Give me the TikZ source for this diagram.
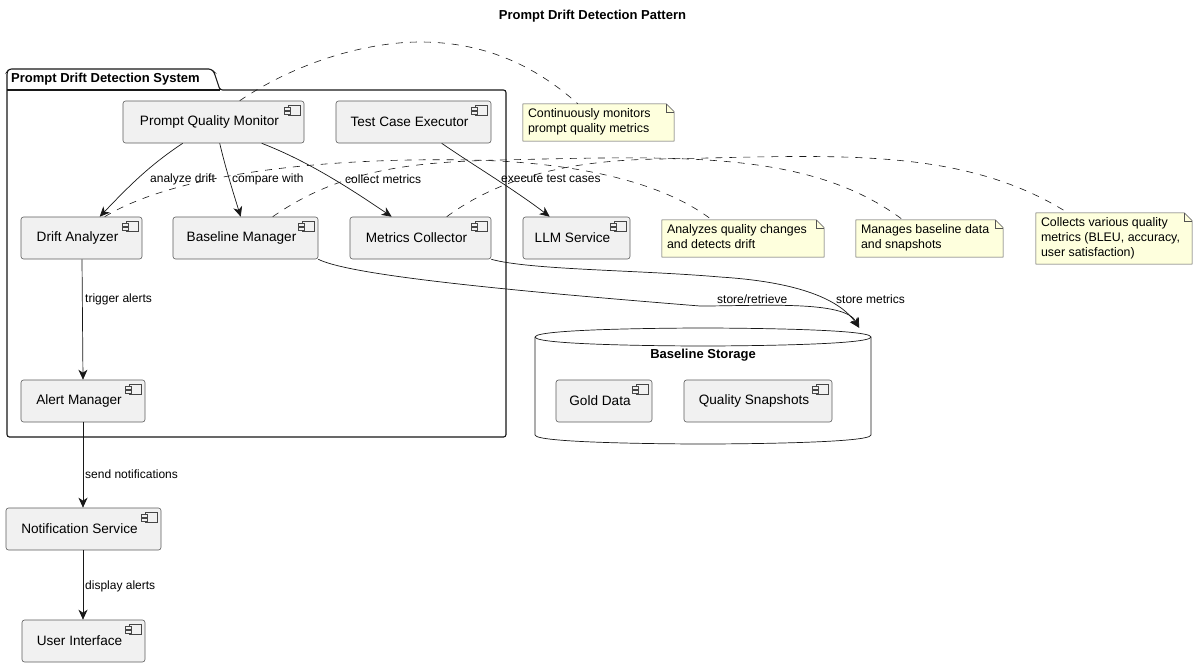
\documentclass[tikz,border=0pt]{standalone}
\usepackage{fontspec}
\setmainfont{Liberation Sans}
\usetikzlibrary{arrows.meta,calc}
\definecolor{ink}{HTML}{181818}
\definecolor{compfill}{HTML}{F1F1F1}
\definecolor{notefill}{HTML}{FEFFDD}
\tikzset{
  comp/.style={draw=ink!70,line width=0.6pt,fill=compfill,rounded corners=2.5pt,inner sep=0pt,font=\fontsize{13.6}{16}\selectfont},
  flow/.style={draw=ink,line width=0.7pt,-{Stealth[length=10pt,width=9pt,inset=3pt]}},
  notelink/.style={draw=ink,line width=0.6pt,dash pattern=on 7pt off 7pt},
  edgelabel/.style={font=\fontsize{12}{14}\selectfont,inner sep=0pt,anchor=west},
  notetext/.style={inner sep=0pt,font=\fontsize{12.4}{14.6}\selectfont,align=left,anchor=north west},
  notebox/.style={inner sep=0pt},
}
% \comp{name}{x1}{y1}{x2}{y2}{text}
\newcommand\comp[6]{%
  \node[comp,minimum width=#4pt-#2pt,minimum height=#5pt-#3pt] (#1) at ({(#2+#4)/2},{(#3+#5)/2})
    {\hspace*{-8pt}\raisebox{-5pt}{#6}};
  \draw[ink!80,line width=0.5pt,fill=compfill] ($(#1.north east)+(-16,5)$) rectangle ($(#1.north east)+(-4,15)$);
  \draw[ink!80,line width=0.5pt,fill=compfill] ($(#1.north east)+(-20,7)$) rectangle ($(#1.north east)+(-14,9.5)$);
  \draw[ink!80,line width=0.5pt,fill=compfill] ($(#1.north east)+(-20,11)$) rectangle ($(#1.north east)+(-14,13.5)$);
}
% \note{name}{x1}{y1}{x2}{y2}{text}
\newcommand\notebubble[6]{%
  \node[notebox,minimum width=#4pt-#2pt,minimum height=#5pt-#3pt] (#1) at ({(#2+#4)/2},{(#3+#5)/2}) {};
  \draw[ink!75,line width=0.5pt,fill=notefill] (#1.north west) -- ($(#1.north east)+(-8,0)$) -- ($(#1.north east)+(0,8)$) -- (#1.south east) -- (#1.south west) -- cycle;
  \draw[ink!75,line width=0.5pt] ($(#1.north east)+(-8,0)$) -- ($(#1.north east)+(-8,8)$) -- ($(#1.north east)+(0,8)$);
  \node[notetext] (#1t) at ($(#1.north west)+(5,5)$) {#6};
}
\begin{document}
\begin{tikzpicture}[x=1pt,y=-1pt]
\useasboundingbox (0,0) rectangle (1198,667);
\fill[white] (0,0) rectangle (1198,667);

\node[font=\bfseries\fontsize{13}{15}\selectfont,inner sep=0pt] (title) at (592.5,16) {Prompt Drift Detection Pattern};

% package
\draw[ink,line width=1.1pt,rounded corners=2.5pt] (7,90) -- (7,72) -- (9,69) -- (211,69) -- (214,72) -- (220,90) -- (506,90) -- (506,437) -- (7,437) -- cycle;
\draw[ink,line width=1.1pt] (7,90) -- (220,90);
\node[font=\bfseries\fontsize{13}{15}\selectfont,inner sep=0pt,anchor=west] (pkg) at (11,79.5) {Prompt Drift Detection System};

% storage
\node[inner sep=0pt,minimum width=336pt,minimum height=116pt] (store) at (703,386) {};
\draw[ink,line width=0.7pt,fill=white] (535,337) .. controls (535,328) and (703,328) .. (703,328) .. controls (703,328) and (871,328) .. (871,337)
  -- (871,435) .. controls (871,444) and (703,444) .. (703,444) .. controls (703,444) and (535,444) .. (535,435) -- cycle;
\draw[ink,line width=0.7pt] (535,337) .. controls (535,346) and (703,346) .. (703,346) .. controls (703,346) and (871,346) .. (871,337);
\node[font=\bfseries\fontsize{13}{15}\selectfont,inner sep=0pt] (storelabel) at (703,355.5) {Baseline Storage};

% components
\comp{pqm}{123}{101}{304}{143}{Prompt Quality Monitor}
\comp{tce}{336}{101}{491}{143}{Test Case Executor}
\comp{da}{21}{217}{142}{259}{Drift Analyzer}
\comp{bm}{173}{217}{318}{259}{Baseline Manager}
\comp{mc}{350}{217}{491}{259}{Metrics Collector}
\comp{llm}{523}{217}{630}{259}{LLM Service}
\comp{am}{21}{380}{145}{422}{Alert Manager}
\comp{gd}{556}{380}{652}{422}{Gold Data}
\comp{qs}{684}{380}{832}{422}{Quality Snapshots}
\comp{ns}{6}{508}{161}{550}{Notification Service}
\comp{ui}{22}{620}{145}{662}{User Interface}

% notes
\notebubble{n1}{523}{104}{674}{141}{Continuously monitors\\prompt quality metrics}
\notebubble{n2}{662}{220}{824}{257}{Analyzes quality changes\\and detects drift}
\notebubble{n3}{856}{220}{1003}{257}{Manages baseline data\\and snapshots}
\notebubble{n4}{1036}{213}{1192}{264}{Collects various quality\\metrics (BLEU, accuracy,\\user satisfaction)}

% note links
\draw[notelink] ([xshift=117pt]pqm.north west) .. controls (300,60) and (370,42) .. (420,42) .. controls (490,42) and (540,70) .. ([xshift=55pt]n1.north west);
\draw[notelink] ([xshift=84pt]da.north west) .. controls (190,165) and (370,158) .. (470,160) .. controls (570,162) and (660,180) .. ([xshift=50pt]n2.north west);
\draw[notelink] ([xshift=100pt]bm.north west) .. controls (340,170) and (410,162) .. (500,160) .. controls (680,156) and (810,150) .. ([xshift=47pt]n3.north west);
\draw[notelink] ([xshift=97pt]mc.north west) .. controls (510,170) and (590,160) .. (660,159) .. controls (830,156) and (960,145) .. ([xshift=32pt]n4.north west);

% flows
\draw[flow] ([xshift=60pt]pqm.south west) .. controls (150,165) and (130,185) .. ([xshift=79pt]da.north west);
\draw[flow] ([xshift=97pt]pqm.south west) .. controls (226,170) and (234,195) .. ([xshift=68pt]bm.north west);
\draw[flow] ([xshift=139pt]pqm.south west) .. controls (305,160) and (345,185) .. ([xshift=42pt]mc.north west);
\draw[flow] ([xshift=106pt]tce.south west) .. controls (470,163) and (515,190) .. ([xshift=27pt]llm.north west);
\draw[flow] (da.south -| 82,0) -- (am.north -| 83,0);
\draw[flow] (am.south -| 83,0) -- (ns.north -| 83,0);
\draw[flow] (ns.south -| 83,0) -- (ui.north -| 83,0);
\draw[flow] (bm.south east) .. controls (350,275) and (500,290) .. (700,306) .. controls (760,306) and (845,300) .. ([xshift=-12pt]store.north east);
\draw[flow] (mc.south east) .. controls (530,270) and (640,270) .. (720,277) .. controls (800,282) and (840,300) .. ([xshift=-12pt]store.north east);

% edge labels
\node[edgelabel] (l1) at (150,179) {analyze drift};
\node[edgelabel] (l2) at (232,179) {compare with};
\node[edgelabel] (l3) at (345,179) {collect metrics};
\node[edgelabel] (l4) at (501,179) {execute test cases};
\node[edgelabel] (l5) at (85,299) {trigger alerts};
\node[edgelabel] (l6) at (717,299) {store/retrieve};
\node[edgelabel] (l7) at (836,299) {store metrics};
\node[edgelabel] (l8) at (85,474) {send notifications};
\node[edgelabel] (l9) at (85,586) {display alerts};
\end{tikzpicture}
\end{document}
